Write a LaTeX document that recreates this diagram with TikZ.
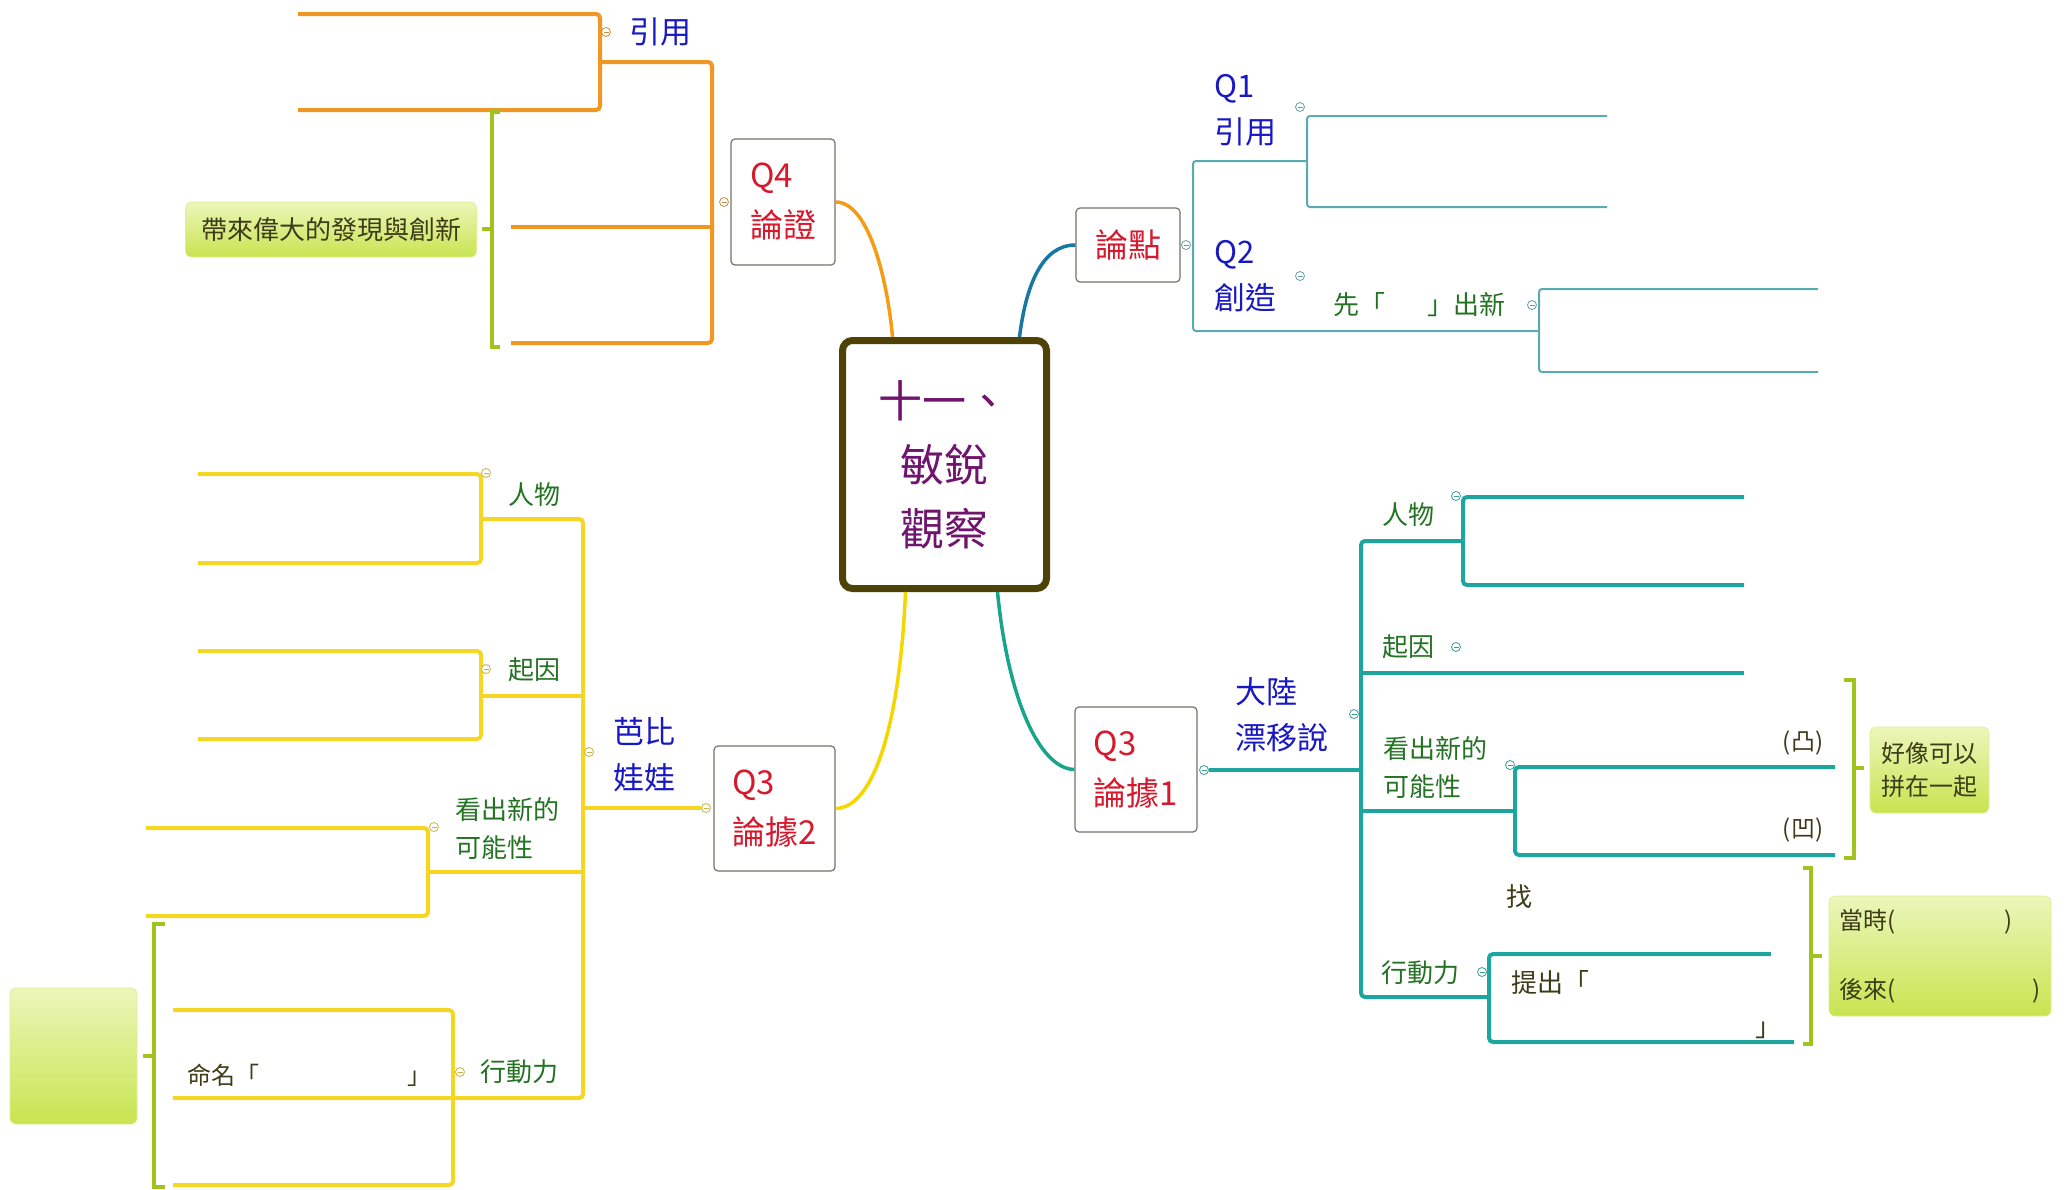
\documentclass[tikz,border=0pt]{standalone}
\usepackage{fontspec}
\setmainfont{Noto Sans CJK TC}
\usepackage{xcolor}
\usepackage{tikz}
\usetikzlibrary{positioning, calc}

\definecolor{hubedge}{RGB}{78,66,6}
\definecolor{hubtext}{RGB}{112,20,110}
\definecolor{qred}{RGB}{215,25,45}
\definecolor{tblue}{RGB}{25,25,195}
\definecolor{tgreen}{RGB}{35,115,35}
\definecolor{tdark}{RGB}{60,60,25}
\definecolor{boxedge}{RGB}{115,115,105}
\definecolor{lorange}{RGB}{240,150,35}
\definecolor{lyellow}{RGB}{245,215,35}
\definecolor{lteal}{RGB}{30,165,160}
\definecolor{lteallight}{RGB}{90,170,175}
\definecolor{lgreen}{RGB}{160,195,30}
\definecolor{notetop}{RGB}{236,246,186}
\definecolor{notebot}{RGB}{200,228,80}
\definecolor{corange}{RGB}{245,155,20}
\definecolor{cblue}{RGB}{25,120,160}
\definecolor{cyellow}{RGB}{245,215,0}
\definecolor{cteal}{RGB}{25,165,140}

\newcommand{\hubfont}{\fontsize{44}{64}\selectfont}
\newcommand{\qfont}{\fontsize{33}{50}\selectfont}
\newcommand{\bluefont}{\fontsize{31}{46}\selectfont}
\newcommand{\greenfont}{\fontsize{26}{38}\selectfont}
\newcommand{\notefont}{\fontsize{24}{33}\selectfont}

\tikzstyle{hub} = [rectangle, rounded corners=10pt, draw=hubedge, line width=7pt, fill=white, minimum width=204pt, minimum height=248pt, text=hubtext, font=\hubfont, align=center]
\tikzstyle{topic} = [rectangle, rounded corners=4pt, draw=boxedge, line width=1.2pt, fill=white, text=qred, font=\qfont, align=left]
\tikzstyle{note} = [rectangle, rounded corners=6pt, top color=notetop, bottom color=notebot, draw=notebot!40!notetop, line width=0.6pt, text=tdark, align=left]
\tikzstyle{bluelabel} = [text=tblue, font=\bluefont, align=left, inner sep=0pt]
\tikzstyle{greenlabel} = [text=tgreen, font=\greenfont, align=left, inner sep=0pt]
\tikzstyle{darklabel} = [text=tdark, font=\greenfont, align=left, inner sep=0pt]
\tikzstyle{orangeline} = [draw=lorange, line width=4pt, rounded corners=4pt]
\tikzstyle{yellowline} = [draw=lyellow, line width=4pt, rounded corners=4pt]
\tikzstyle{tealline} = [draw=lteal, line width=4pt, rounded corners=4pt]
\tikzstyle{thinline} = [draw=lteallight, line width=2pt, rounded corners=3pt]
\tikzstyle{bracket} = [draw=lgreen, line width=4pt]
\tikzstyle{curve} = [line width=3.5pt]

\begin{document}
\begin{tikzpicture}[
    x=1pt, y=-1pt,
    fold/.style={circle, draw=#1, line width=0.8pt, fill=white, minimum size=9pt, inner sep=0pt,
        path picture={\draw[#1, line width=0.8pt] ([xshift=-2.5pt]path picture bounding box.center) -- ([xshift=2.5pt]path picture bounding box.center);}}
]
\useasboundingbox (0,0) rectangle (2069,1189);

% main topic and the four boxes
\node[hub] (hub) at (944.5,464.5) {十一、\\敏銳\\觀察};
\node[topic, minimum width=104pt, minimum height=126pt] (q4) at (783,202) {Q4\\論證};
\node[topic, minimum width=104pt, minimum height=74pt] (lundian) at (1128,245) {論點};
\node[topic, minimum width=121pt, minimum height=125pt] (q3left) at (774.5,808.5) {Q3\\論據2};
\node[topic, minimum width=122pt, minimum height=125pt] (q3right) at (1136,769.5) {Q3\\論據1};

\coordinate (hub-a) at ($(hub.north)+(-52,0)$);
\coordinate (hub-b) at ($(hub.north)+(75,0)$);
\coordinate (hub-c) at ($(hub.south)+(-39,0)$);
\coordinate (hub-d) at ($(hub.south)+(53,0)$);

\draw[curve, draw=corange] (q4.east) .. controls (870,202) and (888,285) .. (hub-a);
\draw[curve, draw=cblue] (hub-b) .. controls (1026,285) and (1042,245) .. (lundian.west);
\draw[curve, draw=cyellow] (hub-c) .. controls (900,720) and (875,808) .. (q3left.east);
\draw[curve, draw=cteal] (hub-d) .. controls (1008,700) and (1040,769) .. (q3right.west);

% Q4 branch
\foreach \n/\x/\y in {oa/712/62, ob/600/62, oc/712/343, od/511/343, oe/511/227, of/712/227,
    og/298/14, oh/600/14, oi/600/110, oj/298/110,
    ga/500/112, gb/492/112, gc/492/347, gd/500/347, ge/492/229, gf/482/229}
  \coordinate (\n) at (\x,\y);
\draw[orangeline] (ob) -- (oa) -- (oc) -- (od);
\draw[orangeline] (oe) -- (of);
\draw[orangeline] (og) -- (oh) -- (oi) -- (oj);
\draw[bracket] (ga) -- (gb) -- (gc) -- (gd);
\draw[bracket] (ge) -- (gf);
\node[fold=lorange!60!gray] (f-q4) at (724,202) {};
\node[fold=lorange!60!gray] (f-yy) at (606,32) {};
\node[bluelabel] (yinyong) at (660,32) {引用};
\node[note, font=\greenfont, minimum width=291pt, minimum height=55pt] (note-a) at (331,229.5) {帶來偉大的發現與創新};

% 論點 branch
\foreach \n/\x/\y in {ta/1193/161, tb/1193/331, tc/1307/161, td/1539/331,
    te/1307/116, tf/1307/207, tg/1607/116, th/1607/207,
    ti/1539/289, tj/1539/372, tk/1818/289, tl/1818/372}
  \coordinate (\n) at (\x,\y);
\draw[thinline] (tc) -- (ta) -- (tb) -- (td);
\draw[thinline] (tg) -- (te) -- (tf) -- (th);
\draw[thinline] (tk) -- (ti) -- (tj) -- (tl);
\node[fold=lteallight!70!gray] (f-ld) at (1186,245) {};
\node[fold=lteallight!70!gray] (f-q1) at (1300,107) {};
\node[fold=lteallight!70!gray] (f-q2) at (1300,276) {};
\node[fold=lteallight!70!gray] (f-xian) at (1532,305) {};
\node[bluelabel, anchor=west] (q1) at (1214,110) {Q1\\引用};
\node[bluelabel, anchor=west] (q2) at (1214,276) {Q2\\創造};
\node[greenlabel] (xian) at (1419,305) {先「\hspace{42pt}」出新};

% Q3 論據1 branch
\foreach \n/\x/\y in {ub/1361/770, uc/1463/541, ud/1361/541, ue/1361/997, uf/1489/997,
    ug/1361/673, uh/1744/673, ui/1361/811, uj/1515/811,
    uk/1744/497, ul/1463/497, um/1463/585, un/1744/585,
    uo/1835/767, up/1515/767, uq/1515/855, ur/1835/855,
    us/1771/954, ut/1489/954, uu/1489/1042, uv/1794/1042,
    ra/1844/680, rb/1854/680, rc/1854/858, rd/1844/858, re/1854/768, rf/1864/768,
    sa/1803/868, sb/1811/868, sc/1811/1044, sd/1803/1044, se/1811/956, sf/1822/956}
  \coordinate (\n) at (\x,\y);
\node[fold=lteal!70!gray] (f-q3r) at (1204,770) {};
\draw[tealline] (f-q3r.east) -- (ub);
\draw[tealline] (uc) -- (ud) -- (ue) -- (uf);
\draw[tealline] (ug) -- (uh);
\draw[tealline] (ui) -- (uj);
\draw[tealline] (uk) -- (ul) -- (um) -- (un);
\draw[tealline] (uo) -- (up) -- (uq) -- (ur);
\draw[tealline] (us) -- (ut) -- (uu) -- (uv);
\draw[bracket] (ra) -- (rb) -- (rc) -- (rd);
\draw[bracket] (re) -- (rf);
\draw[bracket] (sa) -- (sb) -- (sc) -- (sd);
\draw[bracket] (se) -- (sf);
\node[fold=lteal!70!gray] (f-dalu) at (1354,714) {};
\node[fold=lteal!70!gray] (f-rw) at (1456,496) {};
\node[fold=lteal!70!gray] (f-qy) at (1456,647) {};
\node[fold=lteal!70!gray] (f-kc) at (1510,765) {};
\node[fold=lteal!70!gray] (f-xd) at (1482,972) {};
\node[bluelabel, anchor=west] (dalu) at (1235,715) {大陸\\漂移說};
\node[greenlabel] (renwu-r) at (1408,515) {人物};
\node[greenlabel] (qiyin-r) at (1408,647) {起因};
\node[greenlabel, anchor=west] (kanchu-r) at (1383,767.5) {看出新的\\可能性};
\node[greenlabel] (xingdong-r) at (1420,973) {行動力};
\node[darklabel, font=\notefont] (tu) at (1803,743) {(凸)};
\node[darklabel, font=\notefont] (ao) at (1803,830) {(凹)};
\node[darklabel] (zhao) at (1519,897) {找};
\node[darklabel, anchor=west] (tichu) at (1511,1005) {提出「\\[6pt]\hspace{244pt}」};
\node[note, font=\notefont, minimum width=119pt, minimum height=86pt] (note-c) at (1929.5,770) {好像可以\\拼在一起};
\node[note, font=\notefont, minimum width=222pt, minimum height=120pt] (note-d) at (1940,956) {當時(\hspace{108pt})\\[36pt]後來(\hspace{136pt})};

% Q3 論據2 branch
\foreach \n/\x/\y in {yb/583/808, yc/481/519, yd/583/519, ye/583/1098, yf/173/1098,
    yg/481/696, yh/583/696, yi/428/872, yj/583/872,
    yk/198/474, yl/481/474, ym/481/563, yn/198/563,
    yo/198/651, yp/481/651, yq/481/739, yr/198/739,
    ys/146/828, yt/428/828, yu/428/916, yv/146/916,
    yw/173/1010, yx/453/1010, yy/453/1185, yz/173/1185,
    la/165/924, lb/154/924, lc/154/1187, ld/165/1187, le/154/1056, lf/143/1056}
  \coordinate (\n) at (\x,\y);
\node[fold=lyellow!60!gray] (f-q3l) at (706,808) {};
\draw[yellowline] (f-q3l.west) -- (yb);
\draw[yellowline] (yc) -- (yd) -- (ye) -- (yf);
\draw[yellowline] (yg) -- (yh);
\draw[yellowline] (yi) -- (yj);
\draw[yellowline] (yk) -- (yl) -- (ym) -- (yn);
\draw[yellowline] (yo) -- (yp) -- (yq) -- (yr);
\draw[yellowline] (ys) -- (yt) -- (yu) -- (yv);
\draw[yellowline] (yw) -- (yx) -- (yy) -- (yz);
\draw[bracket] (la) -- (lb) -- (lc) -- (ld);
\draw[bracket] (le) -- (lf);
\node[fold=lyellow!60!gray] (f-babi) at (589,752) {};
\node[fold=lyellow!60!gray] (f-rw-l) at (486,473) {};
\node[fold=lyellow!60!gray] (f-qy-l) at (486,669) {};
\node[fold=lyellow!60!gray] (f-kc-l) at (434,827) {};
\node[fold=lyellow!60!gray] (f-xd-l) at (460,1072) {};
\node[bluelabel] (babi) at (644,755) {芭比\\娃娃};
\node[greenlabel] (renwu-l) at (534,495) {人物};
\node[greenlabel] (qiyin-l) at (534,670) {起因};
\node[greenlabel, anchor=west] (kanchu-l) at (455,829) {看出新的\\可能性};
\node[greenlabel] (xingdong-l) at (519,1072) {行動力};
\node[darklabel, font=\notefont, anchor=west] (mingming) at (187,1075) {命名「\hspace{148pt}」};
\node[note, minimum width=127pt, minimum height=136pt] (note-b) at (73.5,1056) {};

\end{tikzpicture}
\end{document}
